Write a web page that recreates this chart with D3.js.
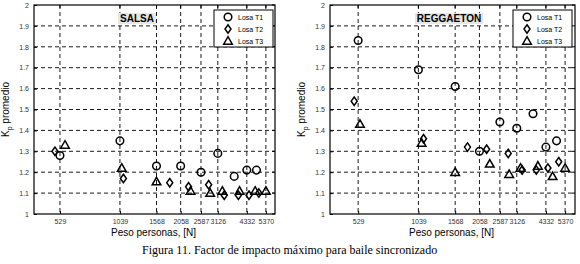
<!DOCTYPE html>
<html>
<head>
<meta charset="utf-8">
<script src="https://cdn.jsdelivr.net/npm/d3@7"></script>
<style>
  body { margin: 0; background: #fff; }
  text { font-family: "Liberation Sans", Arial, sans-serif; }
</style>
</head>
<body>
<div id="chart"></div>
<script>
'use strict';

// tick labels on x (peso personas, N)
const x_ticks = [529, 1039, 1568, 2058, 2587, 3126, 4332, 5370]
const y_ticks = [1, 1.1, 1.2, 1.3, 1.4, 1.5, 1.6, 1.7, 1.8, 1.9, 2]
const series_names = ['Losa T1', 'Losa T2', 'Losa T3']

// SALSA
const salsa_t1_x = [529, 1039, 1568, 2058, 2587, 3126, 3760, 4332, 4830]
const salsa_t1_y = [1.28, 1.35, 1.23, 1.23, 1.20, 1.29, 1.18, 1.21, 1.21]
const salsa_t2_x = [500, 1080, 1820, 2250, 2820, 3360, 3940, 4440, 4960]
const salsa_t2_y = [1.30, 1.17, 1.15, 1.13, 1.14, 1.09, 1.09, 1.09, 1.10]
const salsa_t3_x = [560, 1060, 1568, 2300, 2870, 3290, 3990, 4760, 5370]
const salsa_t3_y = [1.33, 1.22, 1.155, 1.11, 1.10, 1.11, 1.11, 1.11, 1.11]

// REGGAETON
const regg_t1_x = [529, 1039, 1568, 2058, 2587, 3126, 3750, 4332, 4880]
const regg_t1_y = [1.83, 1.69, 1.61, 1.30, 1.44, 1.41, 1.48, 1.32, 1.35]
const regg_t2_x = [506, 1100, 1800, 2230, 2840, 3320, 3890, 4430, 5000]
const regg_t2_y = [1.54, 1.36, 1.32, 1.31, 1.29, 1.21, 1.21, 1.22, 1.25]
const regg_t3_x = [540, 1077, 1568, 2310, 2870, 3260, 3960, 4670, 5370]
const regg_t3_y = [1.43, 1.34, 1.20, 1.24, 1.19, 1.22, 1.23, 1.18, 1.22]

const zip = (xs, ys) => xs.map((x, i) => ({x: x, y: ys[i]}))

const panels = [
  {title: 'SALSA', title_x: 137, left: 34, right: 275, domain: [395, 5950], legend_x: 214,
   series: [zip(salsa_t1_x, salsa_t1_y), zip(salsa_t2_x, salsa_t2_y), zip(salsa_t3_x, salsa_t3_y)]},
  {title: 'REGGAETON', title_x: 449, left: 330, right: 575, domain: [386, 6000], legend_x: 513,
   series: [zip(regg_t1_x, regg_t1_y), zip(regg_t2_x, regg_t2_y), zip(regg_t3_x, regg_t3_y)]}
]

const plot_top = 5, plot_bottom = 214

const svg = d3.select('#chart').append('svg')
  .attr('width', 580)
  .attr('height', 264)

// marker shapes
const marker = function(g, kind){
  if(kind === 0){
    g.append('circle').attr('r', 3.8)
  }else if(kind === 1){
    g.append('path').attr('d', 'M0,-4.2L3,0L0,4.2L-3,0Z')
  }else {
    g.append('path').attr('d', 'M0,-4.3L4.3,3.2L-4.3,3.2Z')
  }
  g.selectAll('circle, path')
    .attr('fill', 'none')
    .attr('stroke', '#000')
    .attr('stroke-width', 1.5)
}

panels.forEach(p => {
  const x = d3.scaleLog().domain(p.domain).range([p.left, p.right])
  const y = d3.scaleLinear().domain([1, 2]).range([plot_bottom, plot_top])

  const g = svg.append('g')

  // dashed grid
  g.append('g')
    .selectAll('line')
    .data(x_ticks)
    .join('line')
    .attr('x1', d => x(d)).attr('x2', d => x(d))
    .attr('y1', plot_top).attr('y2', plot_bottom)
    .attr('stroke', '#000')
    .attr('stroke-width', 0.9)
    .attr('stroke-dasharray', '4,3')

  g.append('g')
    .selectAll('line')
    .data(y_ticks.slice(1, -1))
    .join('line')
    .attr('x1', p.left).attr('x2', p.right)
    .attr('y1', d => y(d)).attr('y2', d => y(d))
    .attr('stroke', '#000')
    .attr('stroke-width', 0.9)
    .attr('stroke-dasharray', '4,3')

  // axes
  const xAxis = d3.axisBottom(x)
    .tickValues(x_ticks)
    .tickFormat(d3.format('d'))
    .tickSizeInner(-3)
    .tickSizeOuter(0)
    .tickPadding(5)
  const xg = g.append('g')
    .attr('transform', `translate(0,${plot_bottom})`)
    .call(xAxis)
  xg.select('.domain').remove()
  xg.selectAll('text').style('font-size', '7px').attr('fill', '#333')

  const yAxis = d3.axisLeft(y)
    .tickValues(y_ticks)
    .tickFormat(d => d3.format('')(+d.toFixed(1)))
    .tickSizeInner(-3)
    .tickSizeOuter(0)
    .tickPadding(5)
  const yg = g.append('g')
    .attr('transform', `translate(${p.left},0)`)
    .call(yAxis)
  yg.select('.domain').remove()
  yg.selectAll('text').style('font-size', '7px').attr('fill', '#333')

  // top ticks and right ticks (box style)
  g.append('g').selectAll('line').data(x_ticks).join('line')
    .attr('x1', d => x(d)).attr('x2', d => x(d))
    .attr('y1', plot_top).attr('y2', plot_top + 3)
    .attr('stroke', '#000')
  g.append('g').selectAll('line').data(y_ticks).join('line')
    .attr('x1', p.right).attr('x2', p.right - 3)
    .attr('y1', d => y(d)).attr('y2', d => y(d))
    .attr('stroke', '#000')

  g.append('rect')
    .attr('x', p.left).attr('y', plot_top)
    .attr('width', p.right - p.left).attr('height', plot_bottom - plot_top)
    .attr('fill', 'none')
    .attr('stroke', '#000')
    .attr('stroke-width', 1.2)

  // title with grey background
  const bg = g.append('rect').attr('fill', '#e6e6e6')
  const t = g.append('text')
    .attr('x', p.title_x).attr('y', 22)
    .attr('text-anchor', 'middle')
    .style('font-size', '10px')
    .style('font-weight', 'bold')
    .text(p.title)
  const bb = t.node().getBBox()
  bg.attr('x', bb.x - 2).attr('y', bb.y)
    .attr('width', bb.width + 4).attr('height', bb.height)

  // points
  p.series.forEach((s, k) => {
    g.append('g')
      .selectAll('g')
      .data(s)
      .join('g')
      .attr('transform', d => `translate(${x(d.x)},${y(d.y)})`)
      .each(function(){ marker(d3.select(this), k) })
  })

  // legend
  const lg = g.append('g')
  lg.append('rect')
    .attr('x', p.legend_x).attr('y', 10)
    .attr('width', 59).attr('height', 37)
    .attr('fill', '#fff')
    .attr('stroke', '#000')
    .attr('stroke-width', 1)
  series_names.forEach((name, k) => {
    const row = lg.append('g')
      .attr('transform', `translate(${p.legend_x + 14},${17 + k * 12})`)
    marker(row, k)
    row.append('text')
      .attr('x', 10).attr('y', 2.5)
      .style('font-size', '7px')
      .text(name)
  })

  // axis titles
  g.append('text')
    .attr('x', (p.left + p.right) / 2 - 1).attr('y', 236)
    .attr('text-anchor', 'middle')
    .style('font-size', '10px')
    .text('Peso personas, [N]')

  const yl = g.append('text')
    .attr('transform', `translate(${p.left - 25},${(plot_top + plot_bottom) / 2}) rotate(-90)`)
    .attr('text-anchor', 'middle')
    .style('font-size', '10px')
  yl.append('tspan').text('K')
  yl.append('tspan').attr('dy', 3).style('font-size', '7px').text('p')
  yl.append('tspan').attr('dy', -3).text(' promedio')
})

svg.append('text')
  .attr('x', 142).attr('y', 254)
  .style('font-family', '"Liberation Serif", "Times New Roman", serif')
  .style('font-size', '12px')
  .text('Figura 11. Factor de impacto máximo para baile sincronizado')
</script>
</body>
</html>
